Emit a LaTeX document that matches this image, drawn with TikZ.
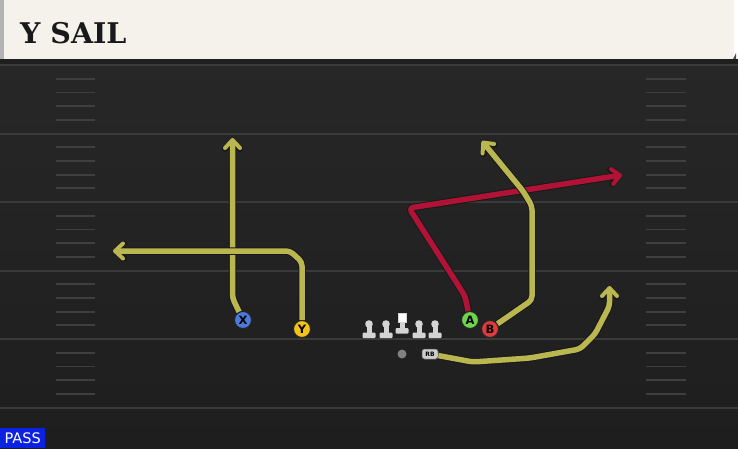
\documentclass[tikz,border=0pt]{standalone}
\usepackage{fontspec}
\setmainfont{DejaVu Sans}
\newfontfamily\titlefont{DejaVu Serif}
\usetikzlibrary{arrows.meta}
\definecolor{fieldc}{HTML}{272727}
\definecolor{fieldd}{HTML}{1E1E1E}
\definecolor{yardc}{HTML}{3A3A3A}
\definecolor{hashc}{HTML}{3F3F3F}
\definecolor{cream}{HTML}{F4F2EB}
\definecolor{routeY}{HTML}{BAB650}
\definecolor{routeR}{HTML}{B01335}
\definecolor{pX}{HTML}{4A7BDC}
\definecolor{pY}{HTML}{F2C318}
\definecolor{pA}{HTML}{6CD64A}
\definecolor{pB}{HTML}{E23A3C}
\definecolor{olgray}{HTML}{D4D4D4}
\definecolor{passblue}{HTML}{0B22E0}
\pgfdeclarelayer{fieldlayer}
\pgfdeclarelayer{routelayer}
\pgfsetlayers{fieldlayer,routelayer,main}
\tikzset{
  player/.style={circle, draw=black!85, line width=1pt, minimum size=17pt, inner sep=0pt,
    font=\fontsize{11.5}{11.5}\selectfont\bfseries},
  routeunder/.style={draw=black!90, line width=7.5pt, line join=round, rounded corners=4pt,
    -{Straight Barb[length=8pt,width=15pt,line width=6pt,round]}},
  routetop/.style={line width=5.5pt, line join=round, rounded corners=4pt,
    -{Straight Barb[length=8pt,width=15pt,line width=4pt,round]}},
  yardline/.style={draw=yardc, line width=2pt},
  hashline/.style={draw=hashc, line width=1.8pt},
  olpart/.style={fill=olgray}
}
\newcommand\drawroute[2]{%
  \draw[routeunder] #2;
  \draw[routetop, draw=#1] #2;
}
\newcommand\olman[1]{%
  \fill[olpart] (#1-2.5,324) rectangle (#1+2.5,334);
  \fill[olpart] (#1,324) circle (3.8);
  \fill[olpart, rounded corners=1pt] (#1-6.5,332.5) rectangle (#1+6.5,338);
}
\begin{document}
\begin{tikzpicture}[x=1pt,y=-1pt]
\useasboundingbox (0,0) rectangle (738,448);
\begin{pgfonlayer}{fieldlayer}
  % field
  \shade[top color=fieldc, bottom color=fieldd] (0,59) rectangle (738,448);
  % header
  \fill[white] (0,0) rectangle (738,59);
  \fill[black!30] (0,0) rectangle (4,59);
  \fill[cream] (4,0) rectangle (734,59);
  \fill[black!70] (733,59) -- (736,53) -- (736,59) -- cycle;
  \fill[black!88] (0,59) rectangle (738,64);
  % yard lines
  \foreach \yy in {65,133.5,202,270.5,339,407.5}
    \draw[yardline] (0,\yy) -- (738,\yy);
  % hash marks
  \foreach \yy in {65,133.5,202,270.5,339}
    \foreach \k in {1,2,3,4} {
      \draw[hashline] (56,\yy+13.7*\k) -- (95,\yy+13.7*\k);
      \draw[hashline] (646,\yy+13.7*\k) -- (686,\yy+13.7*\k);
    }
\end{pgfonlayer}

% title
\node[anchor=base west, inner sep=0pt, font=\titlefont\bfseries\fontsize{28.5}{28.5}\selectfont, text=black!90] (title) at (20,43) {Y SAIL};

% players
\node[player, fill=pX] (X) at (243,320) {X};
\node[player, fill=pY] (Y) at (302,329) {Y};
\node[player, fill=pA] (A) at (470,320) {A};
\node[player, fill=pB] (B) at (490,329) {B};

% offensive line
\olman{369}
\olman{386}
\olman{419}
\olman{435}
\fill[olpart] (399.5,322) rectangle (404.5,330);
\fill[olpart, rounded corners=1pt] (395.5,328) rectangle (408.5,333.5);
\node[draw=olgray, fill=white, line width=1pt, minimum width=8pt, minimum height=8.5pt, inner sep=0pt] (C) at (402,318) {};

% QB and RB
\node[circle, fill=black!50, minimum size=9pt, inner sep=0pt] (QB) at (402,354) {};
\node[rounded corners=2.5pt, fill=black!20, draw=black!60, line width=0.5pt, minimum width=16pt, minimum height=10pt, inner sep=0pt, font=\fontsize{6}{6}\selectfont\bfseries] (RB) at (430,354) {RB};

% route end points
\coordinate (xEnd) at (232.5,138);
\coordinate (yEnd) at (113,251);
\coordinate (aEnd) at (622,175);
\coordinate (bEnd) at (482,141);
\coordinate (rbEnd) at (609.5,286);

\begin{pgfonlayer}{routelayer}
  \drawroute{routeY}{(X) -- (232.5,298) -- (xEnd)}
  \drawroute{routeY}{(Y) -- (302,262) -- (290,251) -- (yEnd)}
  \drawroute{routeR}{(A) -- (465,296) -- (409,208) -- (aEnd)}
  \drawroute{routeY}{(B) -- (532,300) -- (532,206) -- (523,191) -- (bEnd)}
  \drawroute{routeY}{(RB) -- (473,362) -- (530,358) -- (580,349) -- (595,334) -- (609.5,306) -- (rbEnd)}
\end{pgfonlayer}

% pass tag
\node[fill=passblue, text=white, anchor=south west, minimum width=45pt, minimum height=20pt, inner sep=0pt, font=\fontsize{14.5}{14.5}\selectfont] (pass) at (0,448) {PASS};
\end{tikzpicture}
\end{document}
